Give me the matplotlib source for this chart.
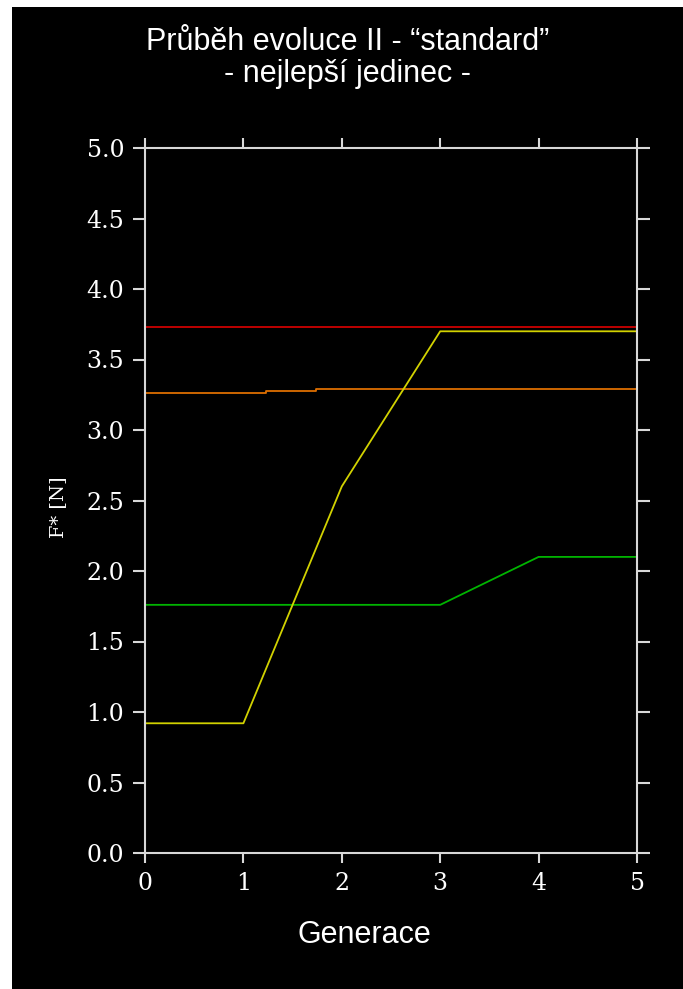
import matplotlib
matplotlib.use("Agg")
import matplotlib.pyplot as plt
from matplotlib.patches import Rectangle

# data
gen_red = [0, 5]
f_red = [3.73, 3.73]

gen_orange = [0, 1.23, 1.23, 1.74, 1.74, 5]
f_orange = [3.265, 3.265, 3.28, 3.28, 3.29, 3.29]

gen_yellow = [0, 1, 2, 3, 5]
f_yellow = [0.92, 0.92, 2.60, 3.70, 3.70]

gen_green = [0, 3, 4, 5]
f_green = [1.76, 1.76, 2.10, 2.10]

xticks = [0, 1, 2, 3, 4, 5]
yticks = [0.0, 0.5, 1.0, 1.5, 2.0, 2.5, 3.0, 3.5, 4.0, 4.5, 5.0]

fig = plt.figure(figsize=(6.83, 9.89), dpi=100, facecolor="white")
# black panel (leaves a thin white strip top/left like the scan)
fig.patches.append(Rectangle((12 / 683, 0), 1, 1 - 7 / 989,
                             transform=fig.transFigure, facecolor="black",
                             edgecolor="none", zorder=-10))

ax = fig.add_axes([145 / 683, 1 - 853 / 989, 492 / 683, 705 / 989])
ax.set_facecolor("black")

lw = 1.3
ax.plot(gen_red, f_red, color="#cc0000", lw=lw)
ax.plot(gen_orange, f_orange, color="#dd6e00", lw=lw)
ax.plot(gen_green, f_green, color="#00b400", lw=lw)
ax.plot(gen_yellow, f_yellow, color="#d2d200", lw=lw)

ax.set_xlim(0, 5)
ax.set_ylim(0, 5)

spine_col = "#d8d8d8"
for s in ax.spines.values():
    s.set_color(spine_col)
    s.set_linewidth(1.5)

ax.set_xticks(xticks)
ax.set_yticks(yticks)
ax.set_yticklabels([f"{v:.1f}" for v in yticks])
ax.tick_params(axis="both", colors=spine_col, width=1.5, direction="out")
ax.tick_params(axis="y", length=9, left=True, right=True, pad=6,
               labelsize=17, labelcolor="white")
ax.tick_params(axis="x", length=7, bottom=True, top=True, pad=7,
               labelsize=17, labelcolor="white")
for lab in ax.get_xticklabels() + ax.get_yticklabels():
    lab.set_family("DejaVu Serif")

ax.set_ylabel("F* [N]", family="DejaVu Serif", fontsize=14, color="white")
ax.yaxis.set_label_coords(-0.158, 0.49)

fig.text(0.5 + 6 / 683, 1 - 42 / 989, "Průběh evoluce II - “standard”",
         ha="center", va="center", color="white", fontsize=22,
         family="Liberation Sans")
fig.text(0.5 + 6 / 683, 1 - 74 / 989, "- nejlepší jedinec -",
         ha="center", va="center", color="white", fontsize=22,
         family="Liberation Sans")
fig.text(364 / 683, 1 - 935 / 989, "Generace", ha="center", va="center",
         color="white", fontsize=22, family="Liberation Sans")

fig.savefig("out.png", dpi=100, facecolor="white")
